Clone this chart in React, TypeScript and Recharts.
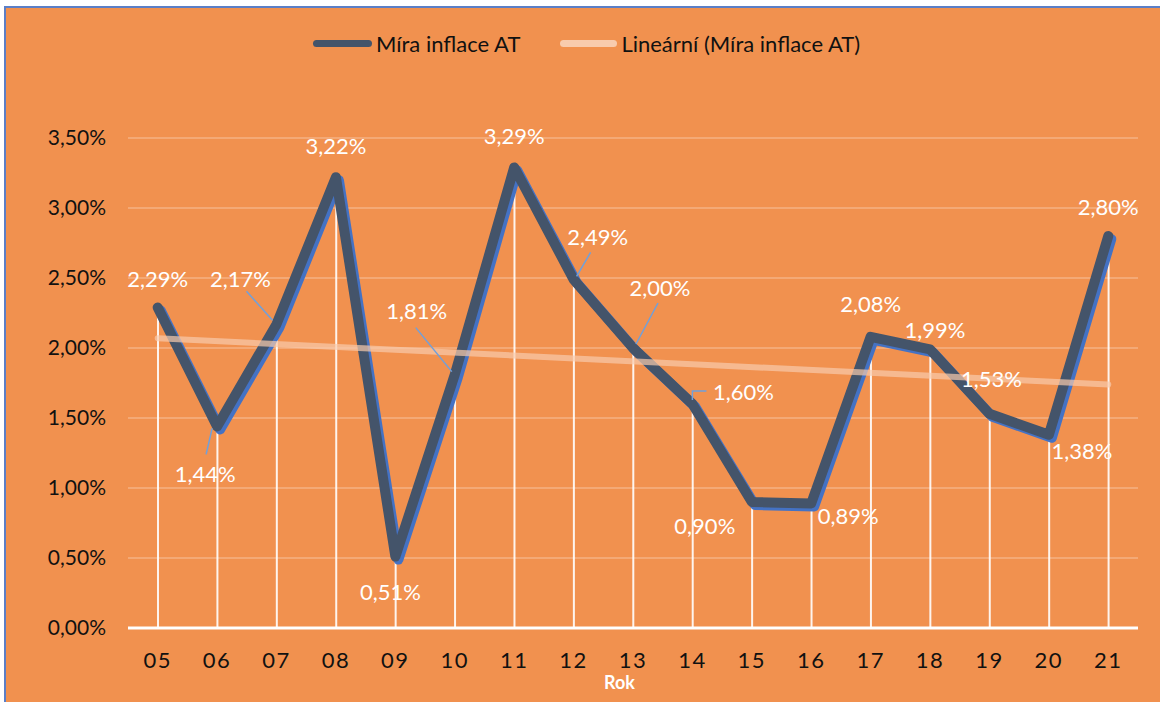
import { Bar, CartesianGrid, ComposedChart, LabelList, Line, ReferenceLine, XAxis, YAxis } from 'recharts'

// roky (osa X) a míra inflace v procentech
const years = ['05', '06', '07', '08', '09', '10', '11', '12', '13', '14', '15', '16', '17', '18', '19', '20', '21']
const inflation = [2.29, 1.44, 2.17, 3.22, 0.51, 1.81, 3.29, 2.49, 2.0, 1.6, 0.9, 0.89, 2.08, 1.99, 1.53, 1.38, 2.8]
const yTicks = [0, 0.5, 1, 1.5, 2, 2.5, 3, 3.5]
// lineární trend (první a poslední rok)
const trendStart = 2.07
const trendEnd = 1.74

const data = years.map((y, i) => ({ year: y, v: inflation[i] }))

// umístění popisků vůči bodu (dx, dy) a vodicí čáry
const labelOffsets: [number, number][] = [
  [0, -29], [-12, 47], [-36, -46], [0, -32], [-5, 35], [-38, -64], [0, -32], [24, -43], [27, -61],
  [51, -13], [-47, 23], [37, 12], [0, -33], [5, -20], [2, -35], [33, 16], [0, -30],
]
const leaders: Record<number, [number, number][]> = {
  1: [[-5, 2], [-11, 28]],
  2: [[-30, -33], [-4, -4]],
  5: [[-39, -47], [-3, -3]],
  7: [[17, -27], [3, -3]],
  8: [[25, -45], [3, -4]],
  9: [[14, -13], [0, -13], [0, -4]],
}

const ORANGE = '#F1914F'
const DARK = '#44546A'
const SHADOW = '#4472C4'
const TREND = '#F8CBAD'
const FONT = 'Lato, "Noto Sans", sans-serif'

const fmt = (v: number) => v.toFixed(2).replace('.', ',') + '%'

function DataLabel(props: any) {
  const { x, y, index, value } = props
  if (x == null || y == null) return null
  const [dx, dy] = labelOffsets[index] ?? [0, -30]
  const lead = leaders[index]
  return (
    <g>
      {lead && (
        <polyline
          points={lead.map(([a, b]) => `${x + a},${y + b}`).join(' ')}
          fill="none"
          stroke="#6FA0DC"
          strokeWidth={1.5}
        />
      )}
      <text x={x + dx} y={y + dy} textAnchor="middle" dominantBaseline="central" fill="#fff" fontSize={22} fontFamily={FONT}>
        {fmt(value)}
      </text>
    </g>
  )
}

export default function App() {
  return (
    <div style={{ position: 'absolute', left: 0, top: 0, width: 1160, height: 702, background: '#fff', overflow: 'hidden' }}>
      <style>{`.main-line .recharts-line-curve { filter: drop-shadow(3px 3px 0 ${SHADOW}); }`}</style>
      <div
        style={{
          position: 'absolute', left: 4, top: 6, width: 1160, height: 700,
          background: ORANGE, borderLeft: '2px solid #5B7FC7', borderTop: '2px solid #5B7FC7',
        }}
      />
      <div style={{ position: 'absolute', left: 0, top: 0 }}>
        <ComposedChart width={1160} height={702} data={data} margin={{ top: 138, right: 22, bottom: 44, left: 28 }}>
          <CartesianGrid horizontal vertical={false} stroke="rgba(255,255,255,0.3)" strokeWidth={1.5} />
          <XAxis
            dataKey="year"
            height={30}
            axisLine={{ stroke: '#fff', strokeWidth: 3 }}
            tickLine={false}
            tickMargin={18}
            tick={{ fill: '#111', fontSize: 22, fontFamily: FONT, letterSpacing: 1.5 }}
            interval={0}
          />
          <YAxis
            domain={[0, 3.5]}
            ticks={yTicks}
            width={100}
            axisLine={false}
            tickLine={false}
            tickMargin={16}
            tickFormatter={fmt}
            tick={{ fill: '#111', fontSize: 21, fontFamily: FONT }}
          />
          <Line
            className="main-line"
            dataKey="v"
            stroke={DARK}
            strokeWidth={10}
            strokeLinejoin="round"
            strokeLinecap="round"
            dot={false}
            activeDot={false}
            isAnimationActive={false}
          >
            <LabelList dataKey="v" content={DataLabel} />
          </Line>
          <Bar dataKey="v" barSize={2} fill="#fff" fillOpacity={0.9} isAnimationActive={false} />
          <ReferenceLine
            segment={[{ x: '05', y: trendStart }, { x: '21', y: trendEnd }]}
            stroke={TREND}
            strokeOpacity={0.7}
            strokeWidth={6}
            strokeLinecap="round"
          />
        </ComposedChart>
      </div>
      {/* legenda */}
      <div style={{ position: 'absolute', left: 313, top: 30, display: 'flex', alignItems: 'center', fontFamily: FONT, fontSize: 22, color: '#111' }}>
        <span style={{ width: 59, height: 7, borderRadius: 4, background: DARK, marginRight: 4 }} />
        <span>Míra inflace AT</span>
        <span style={{ width: 57, height: 7, borderRadius: 4, background: TREND, marginLeft: 40, marginRight: 4 }} />
        <span>Lineární (Míra inflace AT)</span>
      </div>
      <div style={{ position: 'absolute', left: 604, top: 671, fontFamily: FONT, fontSize: 18, fontWeight: 700, color: '#fff' }}>
        Rok
      </div>
    </div>
  )
}
